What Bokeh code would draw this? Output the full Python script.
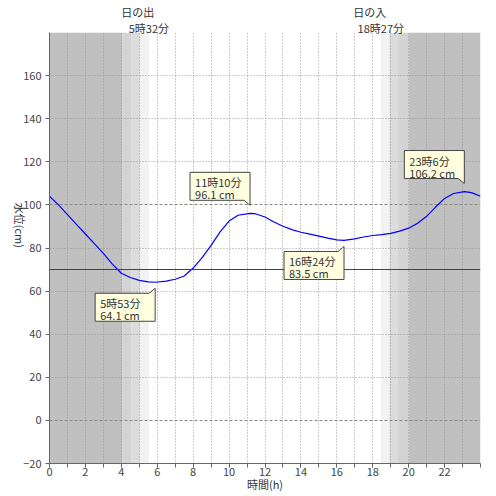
import math

from bokeh.plotting import figure
from bokeh.models import Range1d, FixedTicker, Grid, BoxAnnotation, Label, LinearAxis
from bokeh.embed import file_html
from bokeh.resources import INLINE

FONT = "Noto Sans CJK JP"

# tide level readings (hour of day, cm)
hours = [0, 0.5, 1, 1.5, 2, 2.5, 3, 3.5, 4, 4.5, 5, 5.5, 5.883, 6.5, 7, 7.5,
         8, 8.5, 9, 9.5, 10, 10.5, 11.167, 11.5, 12, 12.5, 13, 13.5, 14, 14.5,
         15, 15.5, 16, 16.4, 17, 17.5, 18, 18.5, 19, 19.5, 20, 20.5, 21, 21.5,
         22, 22.5, 23.1, 23.5, 24]
levels = [104, 100, 95.5, 91, 86.5, 82, 77.5, 72.5, 68.3, 66.3, 65, 64.3, 64.1, 64.6, 65.5, 67.0,
          70.7, 75.5, 81.2, 87.5, 92.5, 95.2, 96.1, 95.8, 94.4, 92.1, 90.1, 88.5, 87.3, 86.4,
          85.5, 84.6, 83.8, 83.5, 84.2, 85.1, 85.8, 86.2, 86.8, 87.8, 89.2, 91.5, 94.7, 99,
          103, 105.3, 106.2, 105.7, 104]

# high / low tides
ext_hour = [5.883, 11.167, 16.4, 23.1]
ext_level = [64.1, 96.1, 83.5, 106.2]
ext_time = ["5時53分", "11時10分", "16時24分", "23時6分"]
ext_text = ["64.1 cm", "96.1 cm", "83.5 cm", "106.2 cm"]
ext_above = [False, True, False, True]

reference_level = 70

# sunrise / sunset
sun_hour = [5.533, 18.45]
sun_name = ["日の出", "日の入"]
sun_time = ["5時32分", "18時27分"]

# night and twilight bands
band_left = [0, 4.05, 4.55, 5.03, 18.45, 18.93, 19.41, 20.0]
band_right = [4.05, 4.55, 5.03, 5.533, 18.93, 19.41, 20.0, 24]
band_color = ["#c0c0c0", "#d3d3d3", "#dcdcdc", "#f2f2f2",
              "#f2f2f2", "#dcdcdc", "#d3d3d3", "#c0c0c0"]

x_ticks = list(range(0, 24, 2))
hour_ticks = list(range(0, 25))
y_ticks = list(range(-20, 180, 20))
dashed_y = [0, 100]

X0, X1, Y0, Y1 = 0, 24, -20, 180
FW, FH = 431, 431
sx = (X1 - X0) / FW   # hours per pixel
sy = (Y1 - Y0) / FH   # cm per pixel

p = figure(frame_width=FW, frame_height=FH, title=None,
           x_range=Range1d(X0, X1), y_range=Range1d(Y0, Y1),
           output_backend="svg", toolbar_location=None,
           min_border_left=49, min_border_top=32,
           min_border_right=16, min_border_bottom=33)
p.outline_line_color = None
p.background_fill_color = "white"

# shaded night / twilight
for l, r, c in zip(band_left, band_right, band_color):
    p.add_layout(BoxAnnotation(left=l, right=r, fill_color=c, fill_alpha=1,
                               line_color=None, level="image"))

# grids
p.xgrid.ticker = FixedTicker(ticks=hour_ticks)
p.xgrid.grid_line_color = "#999999"
p.xgrid.grid_line_dash = "1 2"
p.ygrid.ticker = FixedTicker(ticks=[t for t in y_ticks if t not in dashed_y])
p.ygrid.grid_line_color = "#999999"
p.ygrid.grid_line_dash = "1 2"
p.add_layout(Grid(dimension=1, ticker=FixedTicker(ticks=dashed_y),
                  grid_line_color="#888888", grid_line_dash="3 2"))

# axes
p.xaxis.ticker = FixedTicker(ticks=x_ticks, minor_ticks=hour_ticks)
p.yaxis.ticker = FixedTicker(ticks=y_ticks)
p.axis.major_label_text_font = FONT
p.axis.major_label_text_font_size = "11px"
p.axis.major_label_text_color = "#444444"
p.axis.axis_line_color = "#666666"
p.axis.major_tick_line_color = "#666666"
p.axis.minor_tick_line_color = "#666666"
p.axis.major_tick_in = 0
p.axis.major_tick_out = 4
p.axis.minor_tick_in = 0
p.axis.minor_tick_out = 4
p.yaxis.minor_tick_line_color = None
p.xaxis.major_label_standoff = 0
p.yaxis.major_label_standoff = 4

p.xaxis.axis_label = "時間(h)"
p.yaxis.axis_label = "水位(cm)"
p.axis.axis_label_text_font = FONT
p.axis.axis_label_text_font_size = "11px"
p.axis.axis_label_text_font_style = "normal"
p.axis.axis_label_text_color = "#333333"
p.xaxis.axis_label_standoff = -3
p.yaxis.axis_label_standoff = 0
yax = p.yaxis[0]
if "axis_label_orientation" in yax.properties():
    yax.axis_label_orientation = -math.pi / 2

# sunrise / sunset labels: two one-line axes above the frame
sun_lines = [sun_time, [n + "\u3000\u3000" for n in sun_name]]
for names in sun_lines:
    ax = LinearAxis(ticker=FixedTicker(ticks=sun_hour),
                    major_label_overrides=dict(zip(sun_hour, names)),
                    axis_line_color=None, major_tick_line_color=None,
                    minor_tick_line_color=None, major_tick_out=0, major_tick_in=0,
                    minor_tick_out=0, major_label_standoff=-3,
                    major_label_text_font=FONT, major_label_text_font_size="11px",
                    major_label_text_color="#333333")
    p.add_layout(ax, "above")

# tide curve and reference level
p.line(hours, levels, line_color="#0000ff", line_width=1.2)
p.hspan(y=[reference_level], line_color="#e00000", line_width=1.2)

# callouts
xs, ys, texts = [], [], []
for h, v, t1, t2, above in zip(ext_hour, ext_level, ext_time, ext_text, ext_above):
    R = h
    L = R - 60 * sx
    N = R - 6 * sx
    if above:
        B = v + 13 * sy
        T = B + 28 * sy
        tip = v + 8 * sy
        xs.append([L, L, R, R, N])
        ys.append([B, T, T, tip, B])
    else:
        T = v - 11 * sy
        B = T - 28 * sy
        tip = v - 6 * sy
        xs.append([L, L, N, R, R])
        ys.append([B, T, T, tip, B])
    texts.append((L + 5 * sx, T - 2 * sy, t1))
    texts.append((L + 5 * sx, T - 14 * sy, t2))

p.patches(xs, ys, fill_color="#ffffe0", line_color="#444444", line_width=1)
for x, y, t in texts:
    p.add_layout(Label(x=x, y=y, text=t, text_baseline="top", text_align="left",
                       text_font=FONT, text_font_size="11px", text_color="#333333"))

open("out.html", "w").write(file_html(p, INLINE))
